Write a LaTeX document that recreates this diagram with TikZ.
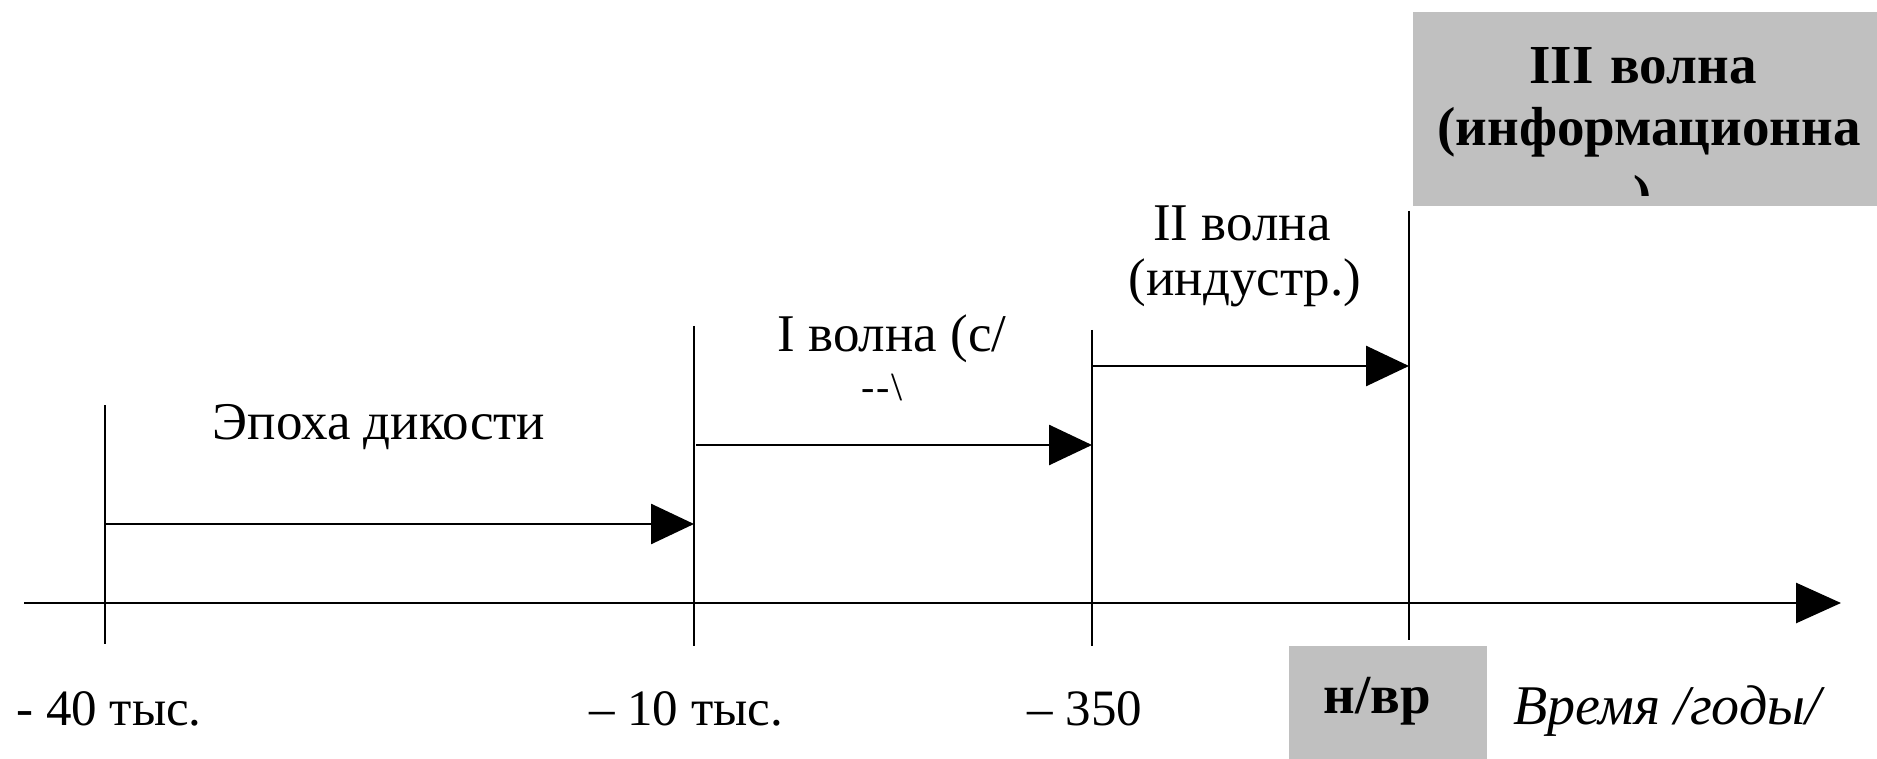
\documentclass[tikz,border=0pt]{standalone}
\usepackage{fontspec}
\setmainfont{Liberation Serif}
\usetikzlibrary{arrows.meta}
\definecolor{boxgray}{HTML}{C0C0C0}
\begin{document}
\begin{tikzpicture}[x=1pt,y=-1pt,
  tick/.style={line width=2.7pt},
  period/.style={line width=2.7pt,-{Triangle[length=43pt,width=40pt]}},
  axisline/.style={line width=2.7pt,-{Triangle[length=45pt,width=40pt]}},
  lbl/.style={font=\fontsize{53}{60}\selectfont, inner sep=0pt},
  num/.style={font=\fontsize{51}{56}\selectfont, inner sep=0pt},
  boldlbl/.style={font=\fontsize{55}{62}\selectfont\bfseries, inner sep=0pt},
  graybox/.style={fill=boxgray, draw=none, inner sep=0pt}]
\useasboundingbox (0,0) rectangle (1877,759);
\fill[white] (0,0) rectangle (1877,759);

% gray boxes
\node[graybox, minimum width=464pt, minimum height=194pt] (w3box) at (1645,109) {};
\node[graybox, minimum width=198pt, minimum height=113pt] (nowbox) at (1388,702.5) {};

% axis
\coordinate (ax0) at (24,603);
\coordinate (ax1) at (1841,603);
\draw[axisline] (ax0) -- (ax1);

% ticks
\coordinate (t1top) at (105,405);  \coordinate (t1bot) at (105,644);
\coordinate (t2top) at (694,326);  \coordinate (t2bot) at (694,646);
\coordinate (t3top) at (1092,330); \coordinate (t3bot) at (1092,646);
\coordinate (t4top) at (1409,211); \coordinate (t4bot) at (1409,640);
\draw[tick] (t1top) -- (t1bot);
\draw[tick] (t2top) -- (t2bot);
\draw[tick] (t3top) -- (t3bot);
\draw[tick] (t4top) -- (t4bot);

% period arrows
\coordinate (a1s) at (105,524);  \coordinate (a1e) at (694,524);
\coordinate (a2s) at (696,445);  \coordinate (a2e) at (1092,445);
\coordinate (a3s) at (1092,366); \coordinate (a3e) at (1409,366);
\draw[period] (a1s) -- (a1e);
\draw[period] (a2s) -- (a2e);
\draw[period] (a3s) -- (a3e);

% labels
\node[lbl] (epoch) at (379,427) {Эпоха дикости};
\node[lbl] (w1) at (892,339) {I волна (с/};
\node[font=\fontsize{40}{44}\selectfont, inner sep=0pt] (w1b) at (882,388) {-\kern2pt-\kern2pt\textbackslash};
\node[lbl] (w2a) at (1242,223) {II волна};
\node[lbl] (w2b) at (1245,283) {(индустр.)};
\node[boldlbl] (w3a) at (1643,66) {III\kern3pt{} волна};
\node[boldlbl] (w3b) at (1649,132) {(информационна};
\begin{scope}
  \clip (1600,170) rectangle (1690,196);
  \node[boldlbl, anchor=base] (w3c) at (1643,214) {)};
\end{scope}

% axis labels
\node[num] (l1) at (109,709) {- 40 тыс.};
\node[num] (l2) at (686,709) {– 10 тыс.};
\node[num] (l3) at (1085,709) {– 350};
\node[boldlbl] (now) at (1377,701) {н/вр};
\node[lbl, font=\fontsize{56}{60}\selectfont\itshape] (time) at (1667,711) {Время /годы/};
\end{tikzpicture}
\end{document}
